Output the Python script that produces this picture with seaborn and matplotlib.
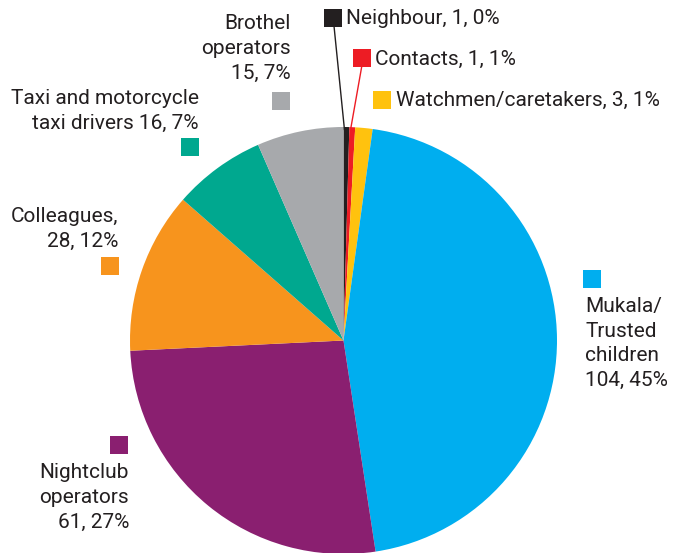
import matplotlib
matplotlib.use('Agg')
import matplotlib.pyplot as plt
import seaborn as sns

# ── Data ──────────────────────────────────────────────────
categories = ['Neighbour', 'Contacts', 'Watchmen/caretakers', 'Mukala/Trusted children',
              'Nightclub operators', 'Colleagues', 'Taxi and motorcycle taxi drivers',
              'Brothel operators']
counts = [1, 1, 3, 104, 61, 28, 16, 15]
label_texts = ['Neighbour, 1, 0%', 'Contacts, 1, 1%', 'Watchmen/caretakers, 3, 1%',
               'Mukala/\nTrusted\nchildren\n104, 45%', 'Nightclub\noperators\n61, 27%',
               'Colleagues,\n28, 12%', 'Taxi and motorcycle\ntaxi drivers 16, 7%',
               'Brothel\noperators\n15, 7%']
colors = ['#231F20', '#ED1C24', '#FFC20E', '#00AEEF', '#8A1F70', '#F7941D', '#00A88F', '#A7A9AC']

# ── Style ─────────────────────────────────────────────────
sns.set_theme(style='white')
plt.rcParams['font.family'] = ['Roboto', 'DejaVu Sans']
sns.set_palette(colors)

W, H = 690, 553
fig = plt.figure(figsize=(W / 100, H / 100), dpi=100)
ax = fig.add_axes([0, 0, 1, 1])

cx, cy, r = 343.5, H - 340.5, 213.5
ax.pie(counts, colors=sns.color_palette(), startangle=90, counterclock=False,
       center=(cx, cy), radius=r, wedgeprops=dict(linewidth=0))
ax.set_xlim(0, W)
ax.set_ylim(0, H)
ax.set_aspect('equal')
ax.axis('off')

# label layout: (square x, square y, text x, text y, ha, va) in image pixels
layout = [
    (333, 18, 346, 18, 'left', 'center'),
    (362, 58, 375, 59, 'left', 'center'),
    (382, 100, 396, 100, 'left', 'center'),
    (592, 279, 585, 297, 'left', 'top'),
    (119, 445, 129, 463, 'right', 'top'),
    (110, 266, 118, 207, 'right', 'top'),
    (190, 147, 199, 89, 'right', 'top'),
    (281, 101, 291, 14, 'right', 'top'),
]
fs = 15
for txt, col, (sx, sy, tx, ty, ha, va) in zip(label_texts, colors, layout):
    ax.scatter([sx], [H - sy], marker='s', s=150, color=col, linewidths=0, zorder=5)
    ax.text(tx, H - ty, txt, ha=ha, va=va, fontsize=fs, color='#231F20',
            linespacing=1.38, multialignment=ha)

# leader lines for the tiny slices
ax.plot([334, 344.5], [H - 26, H - 130], color='#231F20', lw=1)
ax.plot([362, 350.5], [H - 65, H - 130], color='#ED1C24', lw=1)

fig.savefig('out.png', dpi=100)
